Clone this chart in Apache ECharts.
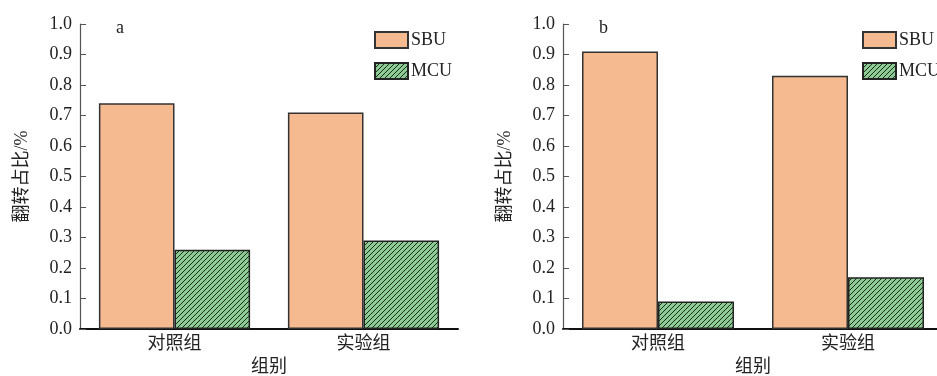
<!DOCTYPE html>
<html>
<head>
<meta charset="utf-8">
<script src="https://cdn.jsdelivr.net/npm/echarts@6/dist/echarts.min.js"></script>
<style>
  html, body { margin: 0; padding: 0; background: #fff; }
  #chart { width: 937px; height: 376px; }
</style>
</head>
<body>
<div id="chart"></div>
<script>
// Category groups and series values for the two panels
const categories = ['对照组', '实验组'];
const seriesNames = ['SBU', 'MCU'];
const panelLabels = ['a', 'b'];
const sbuA = [0.74, 0.71];
const mcuA = [0.26, 0.29];
const sbuB = [0.91, 0.83];
const mcuB = [0.09, 0.17];
const yTicks = ['0.0', '0.1', '0.2', '0.3', '0.4', '0.5', '0.6', '0.7', '0.8', '0.9', '1.0'];

const FONT = '"Liberation Serif", "Noto Sans CJK SC", serif';
const TEXT = '#222';

// Diagonal hatch tile for the MCU bars
function hatchTile() {
  const s = 5;
  const c = document.createElement('canvas');
  c.width = s; c.height = s;
  const g = c.getContext('2d');
  g.fillStyle = '#8ccb93';
  g.fillRect(0, 0, s, s);
  g.strokeStyle = '#1e2a1e';
  g.lineWidth = 1;
  g.beginPath();
  g.moveTo(0, s); g.lineTo(s, 0);
  g.moveTo(-1, 1); g.lineTo(1, -1);
  g.moveTo(s - 1, s + 1); g.lineTo(s + 1, s - 1);
  g.stroke();
  return c;
}
const hatch = { image: hatchTile(), repeat: 'repeat' };

const grids = [
  { left: 80, top: 24, width: 378, height: 305, containLabel: false, outerBoundsMode: 'none' },
  { left: 563, top: 24, width: 380, height: 305, containLabel: false, outerBoundsMode: 'none' }
];

function xAxis(i) {
  return {
    type: 'category', gridIndex: i, data: categories,
    name: '组别', nameLocation: 'middle', nameGap: 27,
    nameTextStyle: { fontFamily: FONT, fontSize: 18, color: TEXT },
    axisLine: { lineStyle: { color: '#111', width: 2 } },
    axisTick: { show: false },
    axisLabel: { fontFamily: FONT, fontSize: 18, color: TEXT, margin: 6 }
  };
}
function yAxis(i) {
  return {
    type: 'value', gridIndex: i, min: 0, max: 1, interval: 0.1,
    name: '翻转占比/%', nameLocation: 'middle', nameGap: 49, nameRotate: 90,
    nameTextStyle: { fontFamily: FONT, fontSize: 18, color: TEXT },
    axisLine: { show: true, lineStyle: { color: '#555', width: 1.2 } },
    axisTick: { show: true, inside: true, length: 6, lineStyle: { color: '#555' } },
    splitLine: { show: false },
    axisLabel: {
      fontFamily: FONT, fontSize: 18, color: TEXT, margin: 8,
      formatter: v => yTicks[Math.round(v * 10)]
    }
  };
}
function bars(i, sbu, mcu) {
  return [
    {
      type: 'bar', name: seriesNames[0], xAxisIndex: i, yAxisIndex: i, data: sbu,
      barGap: 0, barCategoryGap: '20%',
      itemStyle: { color: '#f5ba8f', borderColor: '#333', borderWidth: 1.5 }
    },
    {
      type: 'bar', name: seriesNames[1], xAxisIndex: i, yAxisIndex: i, data: mcu,
      barGap: 0, barCategoryGap: '20%',
      itemStyle: { color: hatch, borderColor: '#222', borderWidth: 1.5 }
    }
  ];
}
function legend(left) {
  return {
    left: left, top: 31, orient: 'vertical', itemWidth: 33, itemHeight: 16, itemGap: 13,
    data: seriesNames, icon: 'rect',
    textStyle: { fontFamily: FONT, fontSize: 18, color: TEXT, padding: [0, 0, 0, -2] },
    padding: 0
  };
}

const chart = echarts.init(document.getElementById('chart'), null, { renderer: 'canvas' });
chart.setOption({
  backgroundColor: '#fff',
  animation: false,
  title: [
    { text: panelLabels[0], left: 116, top: 19, textStyle: { fontFamily: FONT, fontSize: 18, fontWeight: 'normal', color: TEXT }, padding: 0 },
    { text: panelLabels[1], left: 599, top: 19, textStyle: { fontFamily: FONT, fontSize: 18, fontWeight: 'normal', color: TEXT }, padding: 0 }
  ],
  legend: [legend(374), legend(862)],
  grid: grids,
  xAxis: [xAxis(0), xAxis(1)],
  yAxis: [yAxis(0), yAxis(1)],
  series: [...bars(0, sbuA, mcuA), ...bars(1, sbuB, mcuB)]
});
</script>
</body>
</html>
